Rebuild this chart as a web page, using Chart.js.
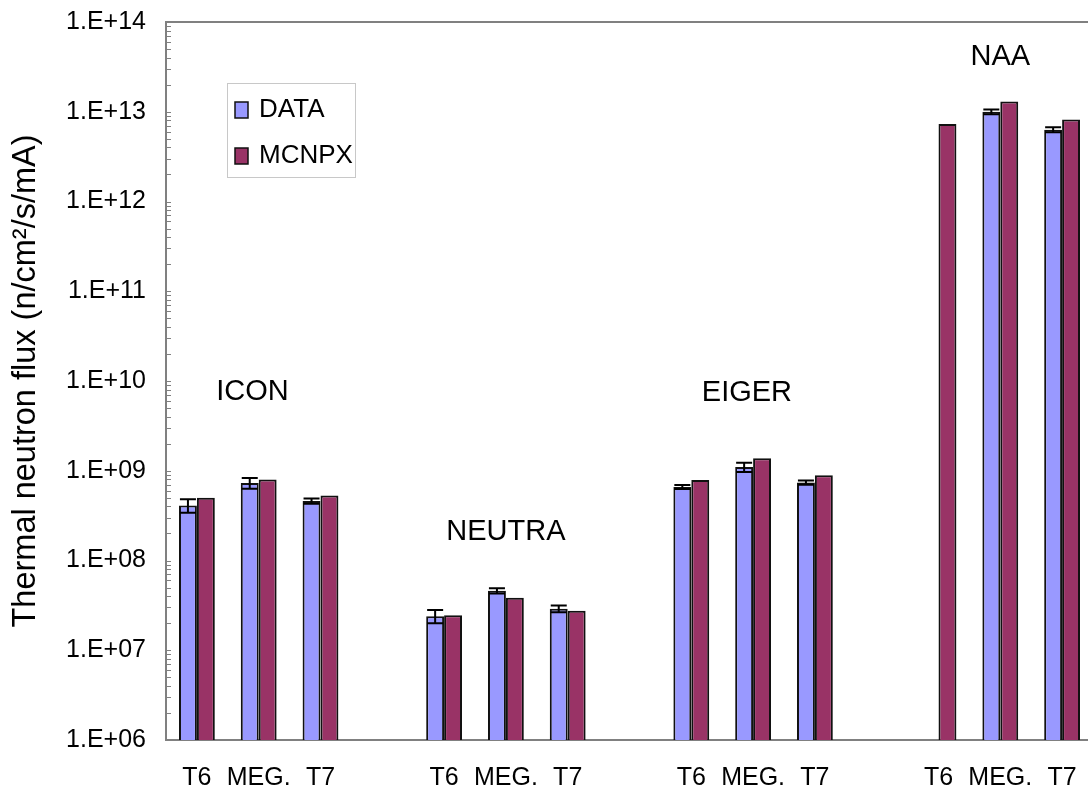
<!DOCTYPE html>
<html>
<head>
<meta charset="utf-8">
<script src="https://cdn.jsdelivr.net/npm/chart.js@4/dist/chart.umd.min.js"></script>
<style>
  html, body { margin: 0; padding: 0; background: #fff; overflow: hidden; }
  #wrap { width: 1088px; height: 789px; overflow: hidden; }
  canvas { display: block; }
</style>
</head>
<body>
<div id="wrap"><canvas id="c" width="1093" height="789" style="width:1093px;height:789px"></canvas></div>
<script>
// Facility / position categories (blank slots separate the facilities)
const categories = ['T6', 'MEG.', 'T7', '', 'T6', 'MEG.', 'T7', '', 'T6', 'MEG.', 'T7', '', 'T6', 'MEG.', 'T7'];
const facilities = ['ICON', 'NEUTRA', 'EIGER', 'NAA'];

// Measured thermal neutron flux and its uncertainty (n/cm2/s/mA)
const dataValues = [4.1e8, 7.3e8, 4.6e8, null, 2.4e7, 4.6e7, 2.9e7, null, 6.6e8, 1.1e9, 7.4e8, null, null, 1.0e13, 6.3e12];
const dataErrors = [0.7e8, 1.0e8, 0.3e8, null, 0.4e7, 0.3e7, 0.25e7, null, 0.35e8, 0.13e9, 0.4e8, null, null, 0.06e13, 0.4e12];

// MCNPX simulated thermal neutron flux (n/cm2/s/mA)
const mcnpxValues = [5.0e8, 8.0e8, 5.3e8, null, 2.45e7, 3.85e7, 2.75e7, null, 7.9e8, 1.38e9, 8.9e8, null, 7.3e12, 1.3e13, 8.2e12];

// Logarithmic axis ticks
const yTickValues = [1e6, 1e7, 1e8, 1e9, 1e10, 1e11, 1e12, 1e13, 1e14];
const yTickLabels = ['1.E+06', '1.E+07', '1.E+08', '1.E+09', '1.E+10', '1.E+11', '1.E+12', '1.E+13', '1.E+14'];

const FONT = '"Liberation Sans", Arial, Helvetica, sans-serif';
const AXIS_GREY = '#808080';

// Facility names placed above each group: [category position, flux level]
const facilityLabelPos = [[0.9, 7.5e9], [5.0, 2.1e8], [8.9, 7.3e9], [13.0, 4.1e13]];

const errorBars = {
  id: 'errorBars',
  afterDatasetsDraw(chart) {
    const meta = chart.getDatasetMeta(0);
    const y = chart.scales.y;
    const ctx = chart.ctx;
    ctx.save();
    ctx.strokeStyle = '#000';
    ctx.lineWidth = 2;
    meta.data.forEach((bar, i) => {
      const v = dataValues[i], e = dataErrors[i];
      if (v == null || e == null) return;
      const x = bar.x;
      const yt = y.getPixelForValue(v + e);
      const yb = y.getPixelForValue(v - e);
      const hw = 8;
      ctx.beginPath();
      ctx.moveTo(x, yt); ctx.lineTo(x, yb);
      ctx.moveTo(x - hw, yt); ctx.lineTo(x + hw, yt);
      ctx.moveTo(x - hw, yb); ctx.lineTo(x + hw, yb);
      ctx.stroke();
    });
    ctx.restore();
  }
};

const frameAndLabels = {
  id: 'frameAndLabels',
  afterDraw(chart) {
    const { ctx, chartArea: a, scales } = chart;
    ctx.save();
    // top frame line
    ctx.strokeStyle = AXIS_GREY;
    ctx.lineWidth = 2;
    ctx.beginPath();
    ctx.moveTo(a.left, a.top); ctx.lineTo(a.right, a.top);
    ctx.stroke();

    // inward minor/major ticks on the value axis
    ctx.lineWidth = 1;
    ctx.beginPath();
    for (let p = 6; p < 14; p++) {
      for (let m = 1; m <= 9; m++) {
        const py = Math.round(scales.y.getPixelForValue(m * Math.pow(10, p))) + 0.5;
        ctx.moveTo(a.left, py); ctx.lineTo(a.left + 5, py);
      }
    }
    ctx.stroke();

    // facility names
    ctx.fillStyle = '#000';
    ctx.font = '29px ' + FONT;
    ctx.textAlign = 'center';
    ctx.textBaseline = 'middle';
    facilities.forEach((name, i) => {
      const [cx, cy] = facilityLabelPos[i];
      ctx.fillText(name, scales.x.getPixelForValue(cx), scales.y.getPixelForValue(cy));
    });

    // legend box
    const lx = a.left + 61, ly = a.top + 61, lw = 128, lh = 94;
    ctx.strokeStyle = '#c8c8c8';
    ctx.lineWidth = 1;
    ctx.strokeRect(lx + 0.5, ly + 0.5, lw, lh);
    ctx.font = '26px ' + FONT;
    ctx.textAlign = 'left';
    chart.data.datasets.forEach((ds, i) => {
      const sy = ly + 19 + i * 46;
      ctx.fillStyle = ds.backgroundColor;
      ctx.fillRect(lx + 8, sy, 13, 16);
      ctx.strokeStyle = '#111';
      ctx.lineWidth = 1.5;
      ctx.strokeRect(lx + 8, sy, 13, 16);
      ctx.fillStyle = '#000';
      ctx.fillText(ds.label, lx + 32, sy + 8);
    });
    ctx.restore();
  }
};

new Chart(document.getElementById('c'), {
  type: 'bar',
  data: {
    labels: categories,
    datasets: [
      {
        label: 'DATA',
        data: dataValues,
        backgroundColor: '#9999FF',
        borderColor: '#111',
        borderWidth: 2,
        categoryPercentage: 0.58,
        barPercentage: 1.0
      },
      {
        label: 'MCNPX',
        data: mcnpxValues,
        backgroundColor: '#993366',
        borderColor: '#111',
        borderWidth: 2,
        categoryPercentage: 0.58,
        barPercentage: 1.0
      }
    ]
  },
  options: {
    responsive: false,
    animation: false,
    layout: { padding: { top: 22, left: 0, right: 0, bottom: 0 } },
    plugins: {
      legend: { display: false },
      tooltip: { enabled: false }
    },
    scales: {
      x: {
        type: 'category',
        offset: true,
        grid: { display: false, drawTicks: false },
        border: { display: true, color: AXIS_GREY, width: 2 },
        ticks: {
          autoSkip: false,
          maxRotation: 0,
          minRotation: 0,
          padding: 23,
          color: '#000',
          font: { family: FONT, size: 25 }
        },
        afterFit(scale) {
          scale.height = 49;
          scale.paddingLeft = 0;
          scale.paddingRight = 0;
        }
      },
      y: {
        type: 'logarithmic',
        min: 1e6,
        max: 1e14,
        grid: { display: false, drawTicks: false },
        border: { display: true, color: AXIS_GREY, width: 2 },
        afterBuildTicks(scale) {
          scale.ticks = yTickValues.map(v => ({ value: v }));
        },
        ticks: {
          padding: 20,
          color: '#000',
          font: { family: FONT, size: 25 },
          callback(value) {
            const i = yTickValues.indexOf(value);
            return i >= 0 ? yTickLabels[i] : '';
          }
        },
        title: {
          display: true,
          text: 'Thermal neutron flux (n/cm²/s/mA)',
          color: '#000',
          font: { family: FONT, size: 32.5 },
          padding: { top: 7, bottom: 0 }
        },
        afterFit(scale) {
          scale.width = 166;
          scale.paddingTop = 0;
          scale.paddingBottom = 0;
        }
      }
    }
  },
  plugins: [errorBars, frameAndLabels]
});
</script>
</body>
</html>
